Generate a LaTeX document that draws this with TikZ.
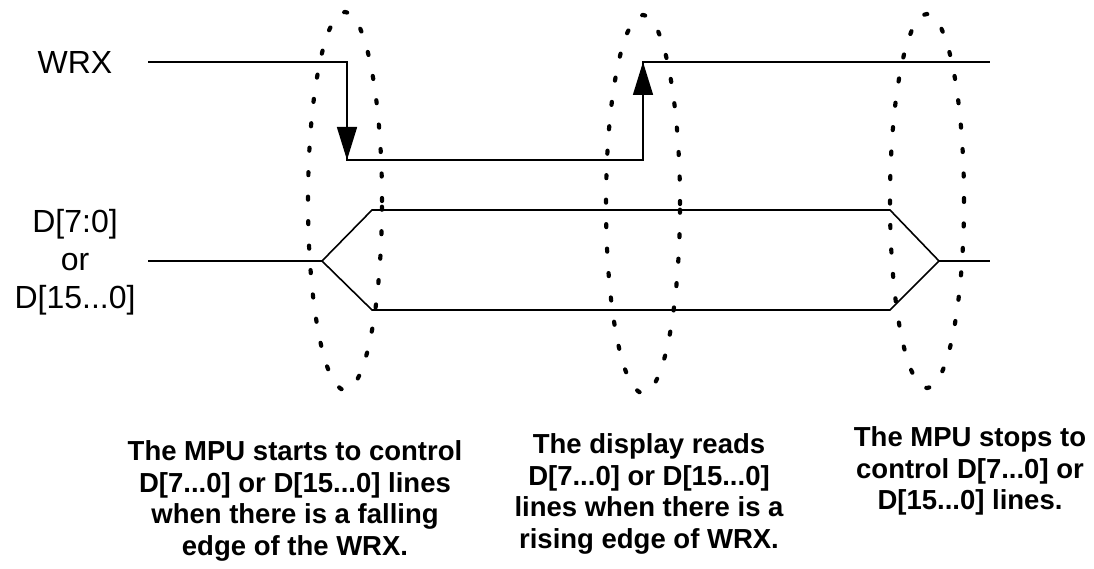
\documentclass[tikz,border=0pt]{standalone}
\usepackage{fontspec}
\setmainfont{Liberation Sans}
\usetikzlibrary{arrows.meta}
\begin{document}
\begin{tikzpicture}[x=1pt,y=-1pt,
  sig/.style={line width=1.6pt,line join=miter},
  edgearrow/.style={line width=1.6pt,-{Triangle[width=20pt,length=33pt]}},
  dotring/.style={line width=4.2pt,line cap=round,dash pattern=on 3pt off 21.5pt},
  siglabel/.style={font=\fontsize{32}{38}\selectfont,align=center,inner sep=0pt},
  note/.style={font=\bfseries\fontsize{27.5}{31.5}\selectfont,align=center,inner sep=0pt}]
\useasboundingbox (0,0) rectangle (1094,569);
% labels
\node[siglabel] (wrx) at (75,62) {WRX};
\node[siglabel] (dlab) at (75,262) {D[7:0]\\or\\D[15...0]};
% WRX signal
\coordinate (w0) at (148,62);
\coordinate (w1) at (347,62);
\coordinate (w2) at (347,160);
\coordinate (w3) at (643,160);
\coordinate (w4) at (643,62);
\coordinate (w5) at (990,62);
\coordinate (fa) at (347,110);
\coordinate (ra) at (643,112);
\draw[sig] (w0) -- (w1) -- (w2) -- (w3) -- (w4) -- (w5);
\draw[edgearrow] (fa) -- (w2);
\draw[edgearrow] (ra) -- (w4);
% data bus
\coordinate (d0) at (148,261);
\coordinate (d1) at (322,261);
\coordinate (dt1) at (372,210);
\coordinate (db1) at (372,310);
\coordinate (dt2) at (890,210);
\coordinate (db2) at (890,310);
\coordinate (d2) at (939,261);
\coordinate (d3) at (990,261);
\draw[sig] (d0) -- (d1) -- (dt1) -- (dt2) -- (d2) -- (db2) -- (db1) -- (d1);
\draw[sig] (d2) -- (d3);
% dotted ellipses
\draw[dotring] (345,201) ellipse [x radius=37pt, y radius=189pt];
\draw[dotring] (643,204) ellipse [x radius=37pt, y radius=189pt];
\draw[dotring] (927,201) ellipse [x radius=37pt, y radius=187pt];
% notes
\node[note] (n1) at (295,501) {The MPU starts to control\\D[7...0] or D[15...0] lines\\when there is a falling\\edge of the WRX.};
\node[note] (n2) at (649,494) {The display reads\\D[7...0] or D[15...0]\\lines when there is a\\rising edge of WRX.};
\node[note] (n3) at (970,471) {The MPU stops to\\control D[7...0] or\\D[15...0] lines.};
\end{tikzpicture}
\end{document}
